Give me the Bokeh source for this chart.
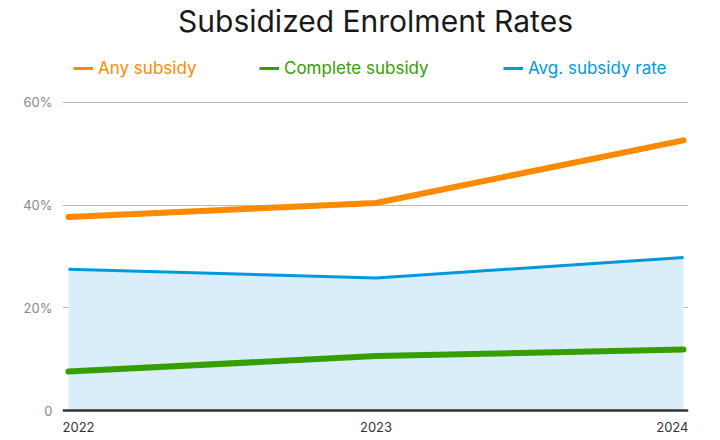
from bokeh.plotting import figure
from bokeh.models import ColumnDataSource, Legend, LegendItem, Span, FixedTicker, Range1d
from bokeh.core.properties import value
from bokeh.embed import file_html
from bokeh.resources import INLINE

years = [2022, 2023, 2024]
year_labels = ["2022", "2023", "2024"]
any_subsidy = [37.7, 40.4, 52.6]
complete_subsidy = [7.6, 10.6, 11.9]
avg_subsidy_rate = [27.5, 25.8, 29.8]
y_ticks = [0, 20, 40, 60]
y_tick_labels = {0: "0", 20: "20%", 40: "40%", 60: "60%"}
series_names = ["Any subsidy", "Complete subsidy", "Avg. subsidy rate"]

ORANGE = "#ff8a00"
GREEN = "#379e00"
BLUE = "#0099dd"
FILL = "#d9eef9"
FONT = "Inter"

src = ColumnDataSource(dict(x=years, any=any_subsidy, comp=complete_subsidy,
                            avg=avg_subsidy_rate, zero=[0] * len(years)))

p = figure(width=712, height=436, output_backend="svg", toolbar_location=None,
           x_axis_location=None,
           x_range=Range1d(2021.9805, 2024.0163), y_range=Range1d(-5.05, 72.43),
           min_border_left=62, min_border_right=24, min_border_top=0, min_border_bottom=0)

p.title.text = "Subsidized Enrolment Rates"
p.title.align = "center"
p.title.text_font = FONT
p.title.text_font_size = "30px"
p.title.text_font_style = "normal"
p.title.text_color = "#1a1a1a"
p.title.offset = 0
p.title.standoff = 0

p.outline_line_color = None
p.background_fill_color = "white"
p.xgrid.visible = False

p.yaxis.ticker = FixedTicker(ticks=y_ticks)
p.yaxis.major_label_overrides = y_tick_labels
p.yaxis.axis_line_color = None
p.yaxis.major_tick_line_color = None
p.yaxis.minor_tick_line_color = None
p.yaxis.major_tick_out = 0
p.yaxis.major_tick_in = 0
p.yaxis.minor_tick_out = 0
p.yaxis.major_label_text_font = FONT
p.yaxis.major_label_text_font_size = "13px"
p.yaxis.major_label_text_color = "#888888"
p.yaxis.major_label_standoff = 10

p.ygrid.ticker = FixedTicker(ticks=[20, 40, 60])
p.ygrid.grid_line_color = "#bbbbbb"
p.ygrid.grid_line_width = 1

p.varea(x="x", y1="zero", y2="avg", source=src, fill_color=FILL)
p.add_layout(Span(location=0, dimension="width", line_color="#333333", line_width=2.5))

p.line(x="x", y="avg", source=src, line_color=BLUE, line_width=3)
p.line(x="x", y="comp", source=src, line_color=GREEN, line_width=6, line_cap="round")
p.line(x="x", y="any", source=src, line_color=ORANGE, line_width=6, line_cap="round")

# x tick labels
lab_src = ColumnDataSource(dict(x=years, t=year_labels, y=[0] * 3,
                                align=["left", "center", "right"], xo=[-6, 0, 5]))
p.text(x="x", y="y", text="t", source=lab_src, text_align="align", text_baseline="top",
       x_offset="xo", y_offset=11, text_font=value(FONT), text_font_size="13px",
       text_color="#333333")

# legends, one per series so that each label has its own colour
colors = [ORANGE, GREEN, BLUE]
starts = [any_subsidy, complete_subsidy, avg_subsidy_rate]
xs = [11, 197, 441]
for name, c, lx, vals in zip(series_names, colors, xs, starts):
    # single-point line: draws nothing in the plot, only provides the legend swatch
    s = ColumnDataSource(dict(x=years[:1], y=vals[:1]))
    r = p.line(x="x", y="y", source=s, line_color=c, line_width=3)
    lg = Legend(items=[LegendItem(label=name, renderers=[r])], location=(lx, 358),
                orientation="horizontal", border_line_color=None, background_fill_alpha=0,
                padding=0, margin=0, glyph_width=20, glyph_height=20, label_standoff=5,
                label_text_font=FONT, label_text_font_size="17px", label_text_color=c)
    p.add_layout(lg)

open("out.html", "w").write(file_html(p, INLINE))
